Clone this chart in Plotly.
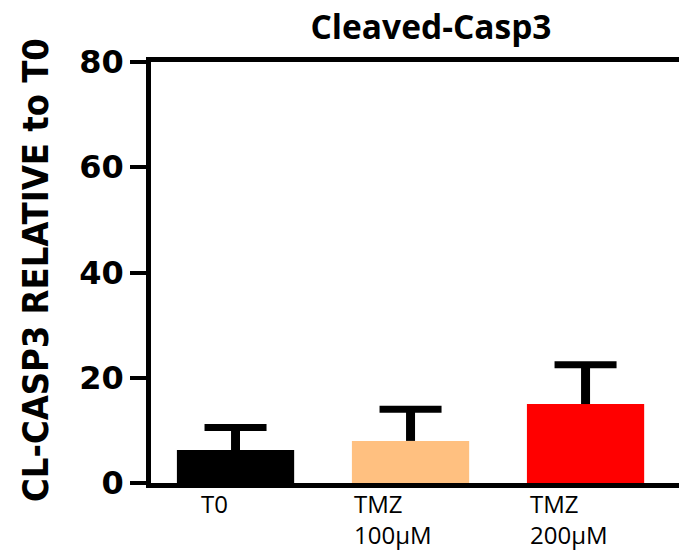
import plotly.graph_objects as go

# Cleaved caspase-3 levels relative to T0
categories = ["T0", "TMZ 100µM", "TMZ 200µM"]
axis_labels = ["T0", "TMZ<br>100µM", "TMZ<br>200µM"]
means = [6.25, 8.0, 15.0]
errors_up = [4.3, 6.0, 7.45]
bar_colors = ["#000000", "#FFC080", "#FF0000"]
y_ticks = [0, 20, 40, 60, 80]

# horizontal pixel offset of each category label from its bar centre
label_shift = [-37, -59, -58]

tops = [m + e for m, e in zip(means, errors_up)]

fig = go.Figure()
fig.add_trace(go.Bar(
    x=categories,
    y=means,
    width=0.67,
    marker=dict(color=bar_colors, line=dict(width=0)),
    showlegend=False,
    hoverinfo="skip",
))

# upper-only error bars: vertical stems from the bar top to mean + SD
stem_x, stem_y = [], []
for c, m, t in zip(categories, means, tops):
    stem_x += [c, c, None]
    stem_y += [m, t, None]
fig.add_trace(go.Scatter(
    x=stem_x, y=stem_y, mode="lines",
    line=dict(color="#000000", width=9),
    showlegend=False, hoverinfo="skip",
))

# horizontal caps at mean + SD
fig.add_trace(go.Scatter(
    x=categories, y=tops, mode="markers",
    marker=dict(size=1, opacity=0),
    error_y=dict(type="data", array=[0] * len(tops),
                 color="#000000", thickness=7, width=31),
    showlegend=False, hoverinfo="skip",
))

annotations = []
for cat, txt, dx in zip(categories, axis_labels, label_shift):
    annotations.append(dict(
        x=cat, xref="x", y=0, yref="paper",
        text=txt, showarrow=False,
        xanchor="left", yanchor="top", align="left",
        xshift=dx, yshift=-2,
        font=dict(family="Open Sans, sans-serif", size=24, color="#000000"),
    ))

# rotated y-axis title
annotations.append(dict(
    x=(36 - 151) / (679 - 151), xref="paper", y=0.506, yref="paper",
    text="<b>CL-CASP3 RELATIVE to T0</b>", textangle=-90, showarrow=False,
    xanchor="center", yanchor="middle",
    font=dict(family="DejaVu Sans Condensed, sans-serif",
              size=36, color="#000000"),
))

fig.update_layout(
    width=679, height=550,
    margin=dict(l=151, r=0, t=62, b=67),
    paper_bgcolor="white", plot_bgcolor="white",
    title=dict(
        text="<b>Cleaved-Casp3</b>",
        x=431 / 679, xanchor="center", xref="container",
        y=1 - 27 / 550, yanchor="middle", yref="container",
        font=dict(family="Open Sans, sans-serif", size=33.5, color="#000000"),
    ),
    xaxis=dict(
        range=[-0.483, 2.534],
        showticklabels=False, ticks="",
        showline=True, linecolor="#000000", linewidth=4.5, mirror=True,
        showgrid=False, zeroline=False,
    ),
    yaxis=dict(
        range=[0, 80], tickvals=y_ticks,
        ticks="outside", ticklen=16, tickwidth=4, tickcolor="#000000",
        showline=True, linecolor="#000000", linewidth=4.5,
        showgrid=False, zeroline=False,
        tickfont=dict(family="DejaVu Sans, sans-serif", size=32, color="#000000", weight="bold"),
    ),
    annotations=annotations,
)

fig.write_html("out.html")
